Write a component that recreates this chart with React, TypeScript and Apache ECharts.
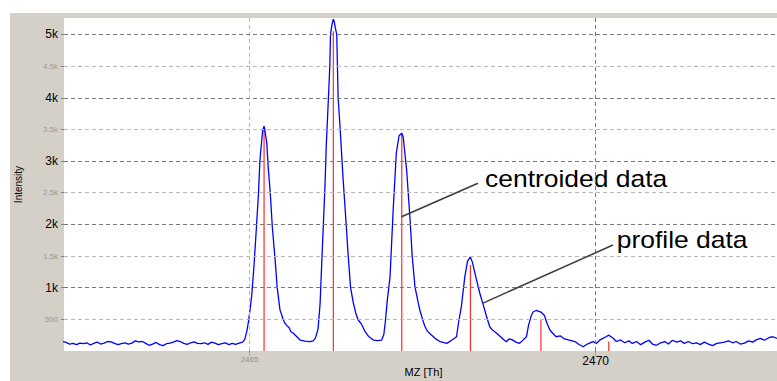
import React, { useEffect, useRef } from "react";
import * as echarts from "echarts";

// Profile data (m/z, intensity)
const profileMz = [
  2462.3, 2462.35, 2462.4, 2462.45, 2462.5, 2462.55, 2462.6, 2462.65, 2462.7, 2462.75,
  2462.8, 2462.85, 2462.9, 2462.95, 2463.0, 2463.05, 2463.1, 2463.15, 2463.2, 2463.25,
  2463.3, 2463.35, 2463.4, 2463.45, 2463.5, 2463.55, 2463.6, 2463.65, 2463.7, 2463.75,
  2463.8, 2463.85, 2463.9, 2463.95, 2464.0, 2464.05, 2464.1, 2464.15, 2464.2, 2464.25,
  2464.3, 2464.35, 2464.4, 2464.45, 2464.5, 2464.55, 2464.6, 2464.65, 2464.7, 2464.75,
  2464.8, 2464.85, 2464.9, 2464.93, 2464.96, 2464.99, 2465.03, 2465.065, 2465.1, 2465.13,
  2465.15, 2465.19, 2465.21, 2465.22, 2465.25, 2465.27, 2465.3, 2465.33, 2465.37, 2465.4,
  2465.44, 2465.48, 2465.51, 2465.54, 2465.57, 2465.6, 2465.63, 2465.68, 2465.73, 2465.8,
  2465.87, 2465.92, 2465.95, 2465.99, 2466.02, 2466.04, 2466.065, 2466.09, 2466.11, 2466.14,
  2466.16, 2466.17, 2466.19, 2466.21, 2466.225, 2466.24, 2466.26, 2466.27, 2466.28, 2466.31,
  2466.35, 2466.39, 2466.43, 2466.46, 2466.5, 2466.54, 2466.57, 2466.62, 2466.67, 2466.72,
  2466.79, 2466.85, 2466.91, 2466.94, 2466.96, 2466.99, 2467.03, 2467.075, 2467.12, 2467.16,
  2467.2, 2467.22, 2467.27, 2467.32, 2467.35, 2467.39, 2467.43, 2467.46, 2467.5, 2467.53,
  2467.56, 2467.6, 2467.64, 2467.68, 2467.75, 2467.8, 2467.85, 2467.92, 2467.99, 2468.02,
  2468.06, 2468.11, 2468.15, 2468.19, 2468.22, 2468.28, 2468.33, 2468.37, 2468.42, 2468.47,
  2468.51, 2468.57, 2468.63, 2468.67, 2468.71, 2468.75, 2468.79, 2468.85, 2468.9, 2468.94,
  2469.0, 2469.03, 2469.07, 2469.1, 2469.14, 2469.21, 2469.26, 2469.3, 2469.34, 2469.38, 2469.43,
  2469.49, 2469.55, 2469.62, 2469.7, 2469.75, 2469.82, 2469.88, 2469.96, 2470.01, 2470.07,
  2470.15, 2470.19, 2470.25, 2470.3, 2470.36, 2470.42, 2470.48, 2470.53, 2470.59, 2470.65,
  2470.71, 2470.77, 2470.82, 2470.88, 2470.94, 2471.0, 2471.05, 2471.11, 2471.17, 2471.23,
  2471.28, 2471.34, 2471.4, 2471.46, 2471.51, 2471.57, 2471.63, 2471.69, 2471.75, 2471.8,
  2471.86, 2471.92, 2471.98, 2472.03, 2472.09, 2472.15, 2472.21, 2472.27, 2472.32, 2472.38,
  2472.44, 2472.5, 2472.56, 2472.62,
];
const profileIntensity = [
  150, 135, 110, 120, 100, 125, 115, 130, 95, 120,
  140, 110, 125, 150, 145, 120, 100, 115, 130, 110,
  125, 160, 145, 150, 120, 90, 110, 135, 100, 85,
  115, 125, 140, 165, 150, 120, 105, 130, 145, 120,
  115, 130, 105, 140, 125, 100, 115, 130, 100, 120,
  105, 125, 140, 180, 305, 500, 856, 1350, 1960, 2500,
  3010, 3486, 3550, 3500, 3280, 2900, 2490, 1950, 1435, 1000,
  650, 520, 440, 400, 370, 300, 284, 230, 173, 155,
  147, 160, 200, 350, 757, 1300, 1960, 2600, 3280, 4000,
  4500, 5000, 5150, 5240, 5200, 5100, 5000, 4500, 4000, 3500,
  2750, 2100, 1435, 1000, 757, 580, 490, 420, 305, 230,
  173, 165, 173, 260, 440, 800, 1172, 2224, 3120, 3400,
  3440, 3380, 2855, 2066, 1500, 1014, 800, 647, 500, 400,
  331, 279, 240, 200, 150, 135, 121, 170, 225, 450,
  699, 1172, 1420, 1487, 1400, 1120, 900, 752, 560, 383,
  330, 279, 220, 180, 147, 190, 180, 140, 121, 160,
  225, 400, 560, 620, 640, 615, 560, 430, 331, 280, 225,
  240, 190, 173, 150, 110, 68, 110, 147, 120, 180,
  225, 250, 205, 150, 175, 130, 160, 120, 150, 100,
  140, 170, 110, 90, 130, 150, 110, 170, 140, 160,
  120, 150, 115, 130, 100, 140, 110, 85, 120, 130,
  140, 160, 130, 150, 110, 125, 160, 140, 175, 200,
  170, 210, 225, 200,
];

// Centroided data
const centroidMz = [2465.21, 2466.21, 2467.2, 2468.19, 2469.21, 2470.19];
const centroidIntensity = [3490, 5050, 3410, 1360, 500, 150];

// Axis ticks
const yGridValues = [500, 1000, 1500, 2000, 2500, 3000, 3500, 4000, 4500, 5000];
const xTickValues = [2465, 2470];

// Annotations: leader line from -> to, text anchor (left/middle)
const annotationTexts = ["centroided data", "profile data"];
const annotationFrom = [[2467.196, 2121], [2468.365, 753]];
const annotationTo = [[2468.3, 2649], [2470.25, 1674]];
const annotationTextAt = [[2468.402, 2717], [2470.305, 1749]];

const FONT = "'Liberation Sans', Arial, sans-serif";

export default function App() {
  const ref = useRef<HTMLDivElement>(null);
  useEffect(() => {
    if (!ref.current) return;
    const chart = echarts.init(ref.current, undefined, { renderer: "svg" });
    const profile = profileMz.map((m, i) => [m, profileIntensity[i]]);
    const centroids = centroidMz.map((m, i) => [m, centroidIntensity[i]]);
    const isMajorY = (v: number) => v % 1000 === 0;
    const dash = [4, 3];

    const gridLines: any[] = [];
    xTickValues.forEach((v) => {
      gridLines.push({
        xAxis: v,
        lineStyle: { color: v % 10 === 0 ? "#7a7a7a" : "#b8b8b8", type: dash, width: 1 },
      });
    });
    yGridValues.forEach((v) => {
      gridLines.push({
        yAxis: v,
        lineStyle: { color: isMajorY(v) ? "#7a7a7a" : "#b8b8b8", type: dash, width: 1 },
      });
    });

    chart.setOption({
      animation: false,
      backgroundColor: "transparent",
      textStyle: { fontFamily: FONT },
      grid: {
        left: 64,
        right: 0,
        top: 18,
        bottom: 30,
        show: true,
        backgroundColor: "#ffffff",
        borderWidth: 0,
        outerBoundsMode: "none",
        containLabel: false,
      },
      xAxis: {
        type: "value",
        min: 2462.32,
        max: 2472.62,
        name: "MZ [Th]",
        nameLocation: "middle",
        nameGap: 15,
        nameMoveOverlap: false,
        nameTextStyle: { fontSize: 11, color: "#000", fontFamily: FONT, padding: [0, 0, 0, 6] },
        axisLine: { show: false },
        splitLine: { show: false },
        axisTick: {
          show: true,
          customValues: xTickValues,
          length: 4,
          lineStyle: { color: "#808080", type: [2, 1] },
        },
        axisLabel: {
          customValues: xTickValues,
          margin: 4,
          formatter: (v: number) => (v % 10 === 0 ? `{a|${v}}` : `{b|${v}}`),
          rich: {
            a: { fontSize: 12, color: "#000", fontFamily: FONT },
            b: { fontSize: 8, color: "#909090", fontFamily: FONT },
          },
        },
      },
      yAxis: {
        type: "value",
        min: 0,
        max: 5260,
        name: "Intensity",
        nameLocation: "middle",
        nameRotate: 90,
        nameGap: 41,
        nameMoveOverlap: false,
        nameTextStyle: { fontSize: 10, color: "#000", fontFamily: FONT },
        axisLine: { show: false },
        splitLine: { show: false },
        axisTick: {
          show: true,
          customValues: yGridValues,
          length: 3,
          lineStyle: { color: "#808080" },
        },
        axisLabel: {
          customValues: yGridValues,
          margin: 6,
          formatter: (v: number) => {
            const t = v >= 1000 ? `${v / 1000}k` : `${v}`;
            return isMajorY(v) ? `{a|${t}}` : `{b|${t}}`;
          },
          rich: {
            a: { fontSize: 12, color: "#000", fontFamily: FONT },
            b: { fontSize: 8, color: "#9a9a9a", fontFamily: FONT },
          },
        },
      },
      series: [
        {
          type: "bar",
          name: "centroided",
          data: centroids,
          barWidth: 1,
          itemStyle: { color: "#ff0000" },
          silent: true,
          markLine: {
            silent: true,
            symbol: ["none", "none"],
            label: { show: false },
            emphasis: { disabled: true },
            data: gridLines,
          },
        },
        {
          type: "line",
          name: "profile",
          data: profile,
          showSymbol: false,
          symbol: "none",
          lineStyle: { color: "#0000ff", width: 1.3 },
          silent: true,
          markLine: {
            silent: true,
            symbol: ["none", "none"],
            label: { show: false },
            emphasis: { disabled: true },
            lineStyle: { color: "#3c3c3c", width: 1.5, type: "solid" },
            data: annotationFrom.map((f, i) => [{ coord: f }, { coord: annotationTo[i] }]),
          },
        },
      ],
    });

    const textEls = annotationTexts.map((t, i) => {
      const p = chart.convertToPixel({ gridIndex: 0 }, annotationTextAt[i]) as number[];
      return {
        type: "text",
        x: p[0],
        y: p[1],
        scaleX: 1.15,
        silent: true,
        style: {
          text: t,
          x: 0,
          y: 0,
          fill: "#000",
          font: `23px ${FONT}`,
          textAlign: "left",
          textVerticalAlign: "middle",
        },
      };
    });
    chart.setOption({ graphic: textEls });

    return () => chart.dispose();
  }, []);

  return (
    <div style={{ position: "fixed", left: 0, top: 0, width: 777, height: 381, background: "#ffffff" }}>
      <div style={{ position: "absolute", left: 10, top: 13, width: 767, height: 368, background: "#d4d0c8" }} />
      <div ref={ref} style={{ position: "absolute", left: 0, top: 0, width: 777, height: 381 }} />
    </div>
  );
}
